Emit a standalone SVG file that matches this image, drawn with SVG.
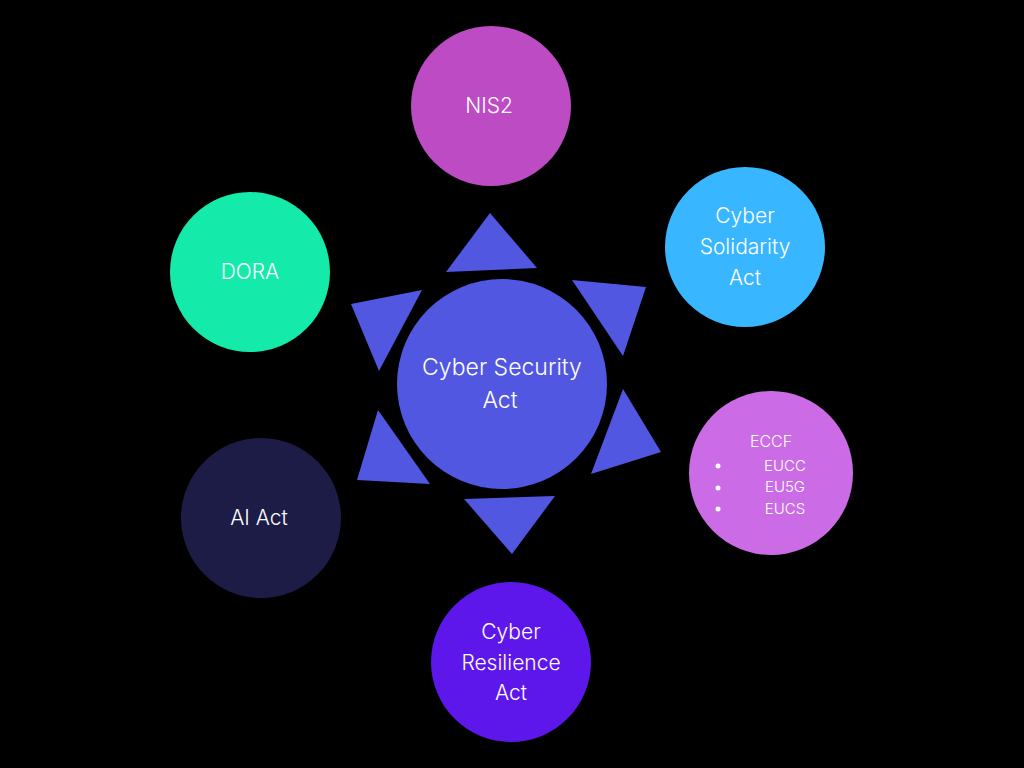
<svg xmlns="http://www.w3.org/2000/svg" width="1024" height="768" viewBox="0 0 1024 768">
<style>
.t{font-family:Inter,"Noto Sans","Liberation Sans",sans-serif;fill:#ffffff;text-anchor:middle;font-weight:300}
.l{font-size:21px}
.s{font-size:15px}
.tri{fill:#5157E0}
</style>
<rect width="1024" height="768" fill="#000000"/>
<g id="connectors">
<polygon class="tri" points="490,213 446,272 537,268"/>
<polygon class="tri" points="572,280 646,287 623,356"/>
<polygon class="tri" points="623,389 661,452 591,474"/>
<polygon class="tri" points="464,499 555,496 512,554"/>
<polygon class="tri" points="378,410 430,484 357,480"/>
<polygon class="tri" points="351,304 422,290 379,371"/>
</g>
<g id="center">
<circle cx="502" cy="384" r="105" fill="#5157E0"/>
<text class="t" x="502" y="375" font-size="23">Cyber Security</text>
<text class="t" x="500" y="408" font-size="23">Act</text>
</g>
<g id="nis2">
<circle cx="491" cy="106" r="80" fill="#BD4BC4"/>
<text class="t l" x="489" y="113">NIS2</text>
</g>
<g id="solidarity">
<circle cx="745" cy="247" r="80" fill="#38B6FF"/>
<text class="t l" x="745" y="223">Cyber</text>
<text class="t l" x="745" y="254">Solidarity</text>
<text class="t l" x="745" y="285">Act</text>
</g>
<g id="eccf">
<circle cx="771" cy="473" r="82" fill="#CB6CE6"/>
<text class="t" x="771" y="447" font-size="16">ECCF</text>
<circle cx="718" cy="466" r="2.5" fill="#ffffff"/>
<circle cx="718" cy="488" r="2.5" fill="#ffffff"/>
<circle cx="718" cy="509" r="2.5" fill="#ffffff"/>
<text class="t s" x="785" y="471">EUCC</text>
<text class="t s" x="785" y="492">EU5G</text>
<text class="t s" x="785" y="514">EUCS</text>
</g>
<g id="resilience">
<circle cx="511" cy="662" r="80" fill="#5E17EB"/>
<text class="t l" x="511" y="639">Cyber</text>
<text class="t l" x="511" y="670">Resilience</text>
<text class="t l" x="511" y="700">Act</text>
</g>
<g id="aiact">
<circle cx="261" cy="518" r="80" fill="#1C1C47"/>
<text class="t l" x="259" y="525">AI Act</text>
</g>
<g id="dora">
<circle cx="250" cy="272" r="80" fill="#14EAAA"/>
<text class="t l" x="250" y="279">DORA</text>
</g>
</svg>
